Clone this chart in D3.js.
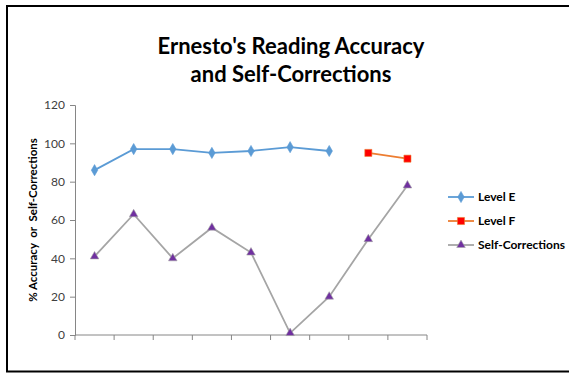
<!DOCTYPE html>
<html>
<head>
<meta charset="utf-8">
<script src="https://cdn.jsdelivr.net/npm/d3@7"></script>
<style>
  html, body { margin: 0; padding: 0; background: #fff; }
  svg { display: block; }
</style>
</head>
<body>
<svg id="chart" width="569" height="373"></svg>
<script>
// Nine reading sessions; Level E for the first seven, Level F for the last two
const sessions = [1, 2, 3, 4, 5, 6, 7, 8, 9];
const levelE = [86, 97, 97, 95, 96, 98, 96, null, null];
const levelF = [null, null, null, null, null, null, null, 95, 92];
const selfCorrections = [41, 63, 40, 56, 43, 1, 20, 50, 78];
const yTicks = [0, 20, 40, 60, 80, 100, 120];
const titleLines = ["Ernesto's Reading Accuracy", "and Self-Corrections"];
const yTitle = "% Accuracy  or  Self-Corrections";

const font = "Lato, 'Open Sans', sans-serif";
const svg = d3.select("#chart");

// frame
svg.append("rect")
  .attr("x", 7).attr("y", 6).attr("width", 566).attr("height", 365.5)
  .attr("fill", "none").attr("stroke", "#000").attr("stroke-width", 2);

const x = d3.scaleBand().domain(sessions).range([75, 427]);
const y = d3.scaleLinear().domain([0, 120]).range([335, 105]);

// title
svg.append("g").selectAll("text").data(titleLines).join("text")
  .attr("x", 291).attr("y", (d, i) => 54 + i * 28)
  .attr("text-anchor", "middle")
  .attr("font-family", font).attr("font-weight", 700).attr("font-size", 22)
  .attr("fill", "#000").text(d => d);

// y axis
const yAxis = svg.append("g").attr("transform", "translate(75,0)")
  .call(d3.axisLeft(y).tickValues(yTicks).tickSize(5).tickPadding(5));
yAxis.select(".domain").attr("stroke", "#868686");
yAxis.selectAll(".tick line").attr("stroke", "#868686");
yAxis.selectAll(".tick text")
  .attr("font-family", font).attr("font-size", 12).attr("fill", "#404040");

// x axis: ticks on category boundaries, no labels
const xAxis = svg.append("g").attr("transform", "translate(0,335)");
xAxis.append("line")
  .attr("x1", 75).attr("x2", 427).attr("stroke", "#868686");
const boundaries = sessions.map(s => x(s)).concat([x(sessions[sessions.length - 1]) + x.bandwidth()]);
xAxis.selectAll("line.tick").data(boundaries).join("line")
  .attr("class", "tick")
  .attr("x1", d => d).attr("x2", d => d)
  .attr("y1", 0).attr("y2", 5)
  .attr("stroke", "#868686");

// y axis title
svg.append("text")
  .attr("transform", "translate(37,220) rotate(-90)")
  .attr("text-anchor", "middle")
  .attr("font-family", font).attr("font-weight", 700).attr("font-size", 11.5)
  .attr("fill", "#000").style("white-space", "pre").text(yTitle);

const cx = i => x(sessions[i]) + x.bandwidth() / 2;
const line = d3.line().defined(d => d != null).x((d, i) => cx(i)).y(d => y(d));

const series = [
  { name: "Level E", data: levelE, line: "#5B9BD5", fill: "#5B9BD5", stroke: "#5B9BD5", symbol: d3.symbolDiamond, size: 36 },
  { name: "Level F", data: levelF, line: "#ED7D31", fill: "#FF0000", stroke: "#ED7D31", symbol: d3.symbolSquare, size: 50 },
  { name: "Self-Corrections", data: selfCorrections, line: "#A5A5A5", fill: "#7030A0", stroke: "#A5A5A5", symbol: d3.symbolTriangle, size: 32 }
];

// draw self-corrections first so accuracy lines sit on top
[series[2], series[0], series[1]].forEach(s => {
  const g = svg.append("g");
  g.append("path").datum(s.data)
    .attr("d", line).attr("fill", "none")
    .attr("stroke", s.line).attr("stroke-width", 1.8);
  g.selectAll("path.pt").data(s.data.map((v, i) => ({ v, i })).filter(d => d.v != null))
    .join("path").attr("class", "pt")
    .attr("transform", d => `translate(${cx(d.i)},${y(d.v)})`)
    .attr("d", d3.symbol().type(s.symbol).size(s.size))
    .attr("fill", s.fill).attr("stroke", s.stroke).attr("stroke-width", 0.6);
});

// legend
const legend = svg.append("g");
series.forEach((s, i) => {
  const ly = 197 + i * 24;
  legend.append("line")
    .attr("x1", 448).attr("x2", 474).attr("y1", ly).attr("y2", ly)
    .attr("stroke", s.line).attr("stroke-width", 1.8);
  legend.append("path")
    .attr("transform", `translate(461,${ly})`)
    .attr("d", d3.symbol().type(s.symbol).size(s.size))
    .attr("fill", s.fill).attr("stroke", s.stroke).attr("stroke-width", 0.6);
  legend.append("text")
    .attr("x", 478).attr("y", ly + 4)
    .attr("font-family", font).attr("font-weight", 700).attr("font-size", 12)
    .attr("fill", "#000").text(s.name);
});
</script>
</body>
</html>
